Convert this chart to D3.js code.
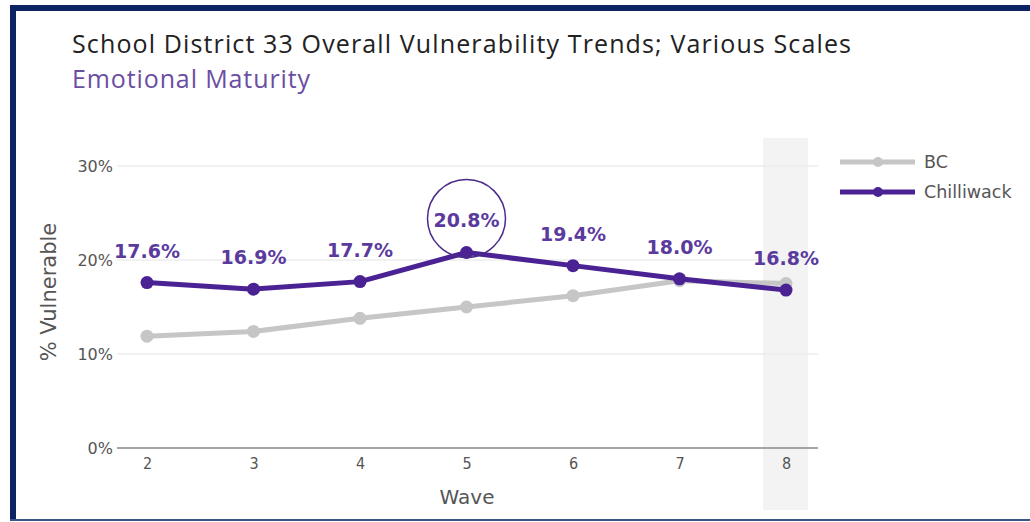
<!DOCTYPE html>
<html>
<head>
<meta charset="utf-8">
<script src="https://cdn.jsdelivr.net/npm/d3@7"></script>
<style>
  html, body { margin: 0; padding: 0; background: #fff; }
  svg { display: block; }
</style>
</head>
<body>
<svg id="chart" width="1030" height="522"></svg>
<script>
// Survey waves and % vulnerable on the Emotional Maturity scale
const waves = [2, 3, 4, 5, 6, 7, 8];
const bcValues = [11.9, 12.4, 13.8, 15.0, 16.2, 17.8, 17.5];
const chilliwackValues = [17.6, 16.9, 17.7, 20.8, 19.4, 18.0, 16.8];
const yTicks = [0, 10, 20, 30];
const highlightWave = 5;
const latestWave = 8;

const svg = d3.select("#chart");
const W = 1030, H = 522;

// Frame
svg.append("rect").attr("x", 10).attr("y", 5).attr("width", W - 10).attr("height", 6).attr("fill", "#0c2463");
svg.append("rect").attr("x", 10).attr("y", 5).attr("width", 6).attr("height", 516).attr("fill", "#0c2463");
svg.append("rect").attr("x", 10).attr("y", 519).attr("width", W - 10).attr("height", 2).attr("fill", "#3b5486");

// Titles, letter-spaced so each line spans its intended width
function fitText(sel, width) {
  const txt = sel.text();
  const len = sel.node().getComputedTextLength();
  sel.attr("letter-spacing", (width - len) / (txt.length - 1));
}
const title = svg.append("text").attr("x", 72).attr("y", 53)
  .attr("font-family", "'Open Sans', sans-serif").attr("font-size", 25)
  .attr("fill", "#222").text("School District 33 Overall Vulnerability Trends; Various Scales");
fitText(title, 779);
const subtitle = svg.append("text").attr("x", 72).attr("y", 88)
  .attr("font-family", "'Open Sans', sans-serif").attr("font-size", 25)
  .attr("fill", "#6a4ea3").text("Emotional Maturity");
fitText(subtitle, 238);

// Scales
const x = d3.scaleLinear().domain([2, 8]).range([147, 786]);
const y = d3.scaleLinear().domain([0, 30]).range([448, 166]);
const plotLeft = 117, plotRight = 818;

// Shaded band behind the latest wave
svg.append("rect")
  .attr("x", x(latestWave) - 23).attr("y", 138)
  .attr("width", 45).attr("height", 372)
  .attr("fill", "#f3f3f3");

// Gridlines
svg.append("g").selectAll("line").data(yTicks.filter(d => d > 0)).join("line")
  .attr("x1", plotLeft).attr("x2", plotRight)
  .attr("y1", d => y(d)).attr("y2", d => y(d))
  .attr("stroke", "#ededed").attr("stroke-width", 1.5);

// Y axis
const yAxis = d3.axisLeft(y).tickValues(yTicks).tickFormat(d => d + "%").tickSize(0).tickPadding(4);
const gy = svg.append("g").attr("transform", `translate(${plotLeft},0)`).call(yAxis);
gy.select(".domain").remove();
gy.selectAll("text").attr("font-family", "'DejaVu Sans', sans-serif").attr("font-size", 16).attr("fill", "#555");

// X axis
const xAxis = d3.axisBottom(x).tickValues(waves).tickFormat(d3.format("d")).tickSize(0).tickPadding(10);
const gx = svg.append("g").attr("transform", `translate(0,${y(0)})`).call(xAxis);
gx.select(".domain").attr("d", `M${plotLeft},0H${plotRight}`).attr("stroke", "#888").attr("stroke-width", 1.5);
gx.selectAll("text").attr("font-family", "'DejaVu Sans Condensed', 'DejaVu Sans', sans-serif").attr("font-size", 16).attr("fill", "#555");

// Axis titles
svg.append("text").attr("x", 467).attr("y", 504).attr("text-anchor", "middle")
  .attr("font-family", "'DejaVu Sans', sans-serif").attr("font-size", 20).attr("fill", "#555").text("Wave");
svg.append("text").attr("transform", "translate(56,292) rotate(-90)").attr("text-anchor", "middle")
  .attr("font-family", "'DejaVu Sans', sans-serif").attr("font-size", 21).attr("fill", "#555").text("% Vulnerable");

// Lines and markers
const line = d3.line().x(d => x(d.w)).y(d => y(d.v));
const series = [
  { name: "BC", values: bcValues, color: "#c6c6c6", width: 5 },
  { name: "Chilliwack", values: chilliwackValues, color: "#4a2293", width: 5 }
];
series.forEach(s => {
  const pts = waves.map((w, i) => ({ w, v: s.values[i] }));
  svg.append("path").datum(pts).attr("d", line)
    .attr("fill", "none").attr("stroke", s.color).attr("stroke-width", s.width)
    .attr("stroke-linejoin", "round");
  svg.append("g").selectAll("circle").data(pts).join("circle")
    .attr("cx", d => x(d.w)).attr("cy", d => y(d.v)).attr("r", 6.5)
    .attr("fill", s.color);
});

// Value labels for Chilliwack
const chPts = waves.map((w, i) => ({ w, v: chilliwackValues[i] }));
svg.append("g").selectAll("text").data(chPts).join("text")
  .attr("x", d => x(d.w)).attr("y", d => y(d.v) - 25)
  .attr("text-anchor", "middle")
  .attr("font-family", "'DejaVu Sans', Verdana, sans-serif").attr("font-weight", "bold")
  .attr("font-size", 19).attr("fill", "#5b3a9e")
  .text(d => d.v.toFixed(1) + "%");

// Circle highlighting the peak wave
const peakIdx = waves.indexOf(highlightWave);
svg.append("circle")
  .attr("cx", x(highlightWave)).attr("cy", y(chilliwackValues[peakIdx]) - 34)
  .attr("r", 39).attr("fill", "none").attr("stroke", "#4a2a8a").attr("stroke-width", 1.5);

// Legend
const legend = svg.append("g");
series.forEach((s, i) => {
  const ly = 162 + i * 30;
  legend.append("line").attr("x1", 840).attr("x2", 915).attr("y1", ly).attr("y2", ly)
    .attr("stroke", s.color).attr("stroke-width", 5);
  legend.append("circle").attr("cx", 878).attr("cy", ly).attr("r", 5).attr("fill", s.color);
  legend.append("text").attr("x", 924).attr("y", ly + 6)
    .attr("font-family", "'DejaVu Sans', sans-serif").attr("font-size", 17.5).attr("fill", "#555")
    .text(s.name);
});
</script>
</body>
</html>
